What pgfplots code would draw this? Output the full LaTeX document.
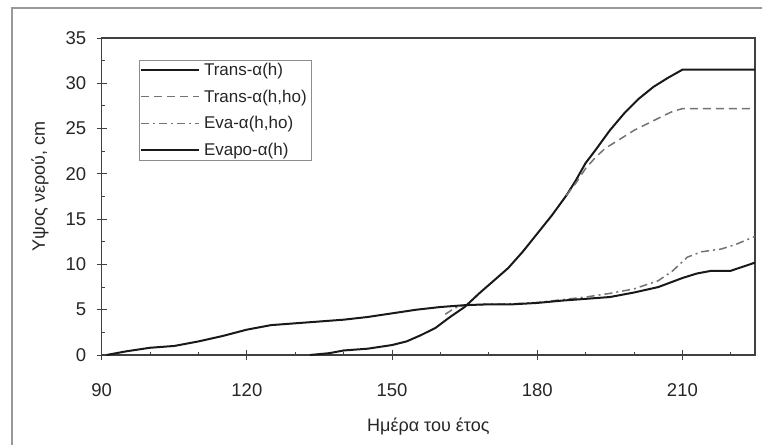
\documentclass[border=0pt]{standalone}
\usepackage{fontspec}
\setmainfont{Liberation Sans}
\usepackage{pgfplots}
\pgfplotsset{compat=1.18}
\usetikzlibrary{calc}
\begin{document}
\begin{tikzpicture}[x=1pt,y=1pt]
\useasboundingbox (0,0) rectangle (762,445);
\draw[black!40, line width=1.5pt] (12,0) -- (12,437) -- (762,437);
\begin{axis}[
  at={(101.7pt,90pt)}, anchor=south west,
  scale only axis, width=653.3pt, height=317pt,
  xmin=90, xmax=225, ymin=0, ymax=35,
  xtick={90,120,...,210}, minor xtick={100,110,...,220},
  ytick={0,5,...,35}, minor ytick={2.5,7.5,...,32.5},
  xtick pos=bottom, ytick pos=left,
  tick align=inside,
  major tick length=10pt, minor tick length=3pt,
  major x tick style={yshift=-5pt},
  major y tick style={xshift=-5pt},
  every tick/.style={black!75, line width=1pt},
  axis line style={black!75, line width=1.3pt},
  /pgf/number format/assume math mode=true,
  tick label style={font=\fontsize{18.5}{21}\selectfont, text=black!85},
  xticklabel style={yshift=-25pt},
  yticklabel style={xshift=-12pt},
  xlabel={Ημέρα του έτος},
  ylabel={Υψος νερού, cm},
  every axis x label/.style={at={($(rel axis cs:0.5,0)+(0pt,-76pt)$)}, anchor=base,
    font=\fontsize{18}{21}\selectfont, text=black!85},
  every axis y label/.style={at={($(rel axis cs:0,0.5)+(-61.7pt,10pt)$)}, rotate=90, anchor=center,
    font=\fontsize{18}{21}\selectfont, text=black!85},
  legend style={at={(rel axis cs:0,1)}, anchor=north west, xshift=37.3pt, yshift=-22pt,
    draw=black!45, line width=0.8pt, fill=white,
    font=\fontsize{17}{20}\selectfont, text=black!85,
    inner sep=1pt, outer sep=0pt, row sep=9pt, nodes={inner ysep=2pt, inner xsep=4pt}},
  legend cell align=left,
  legend image code/.code={\draw[#1] (0pt,0pt) -- (58pt,0pt);},
]
\addplot[black!90, line width=2pt] coordinates {
(133,0) (137,0.2) (140,0.5) (145,0.7) (150,1.1) (153,1.5) (156,2.2) (159,3.0)
(162,4.2) (165,5.3) (168,6.8) (171,8.2) (174,9.6) (177,11.4) (180,13.4) (183,15.4)
(186,17.6) (188,19.3) (190,21.2) (192,22.6) (195,24.8) (198,26.7) (201,28.3)
(204,29.6) (207,30.6) (210,31.5) (225,31.5)};
\addlegendentry{Trans-α(h)}
\addplot[black!55, line width=1.5pt, dash pattern=on 8pt off 5pt] coordinates {
(186,17.6) (188,19.0) (190,20.6) (192,21.8) (194,22.8) (197,23.8) (200,24.8)
(203,25.6) (206,26.4) (208,26.9) (210,27.2) (225,27.2)};
\addlegendentry{Trans-α(h,ho)}
\addplot[black!55, line width=1.5pt, dash pattern=on 8pt off 4pt on 2pt off 4pt] coordinates {
(161,4.5) (163,5.2) (165,5.5) (170,5.6) (175,5.65) (180,5.8) (185,6.1) (190,6.4)
(195,6.8) (200,7.3) (205,8.2) (208,9.3) (211,10.8) (214,11.4) (218,11.7) (221,12.2) (225,13.1)};
\addlegendentry{Eva-α(h,ho)}
\addplot[black!90, line width=2pt] coordinates {
(91,0) (95,0.4) (100,0.8) (105,1.0) (110,1.5) (115,2.1) (120,2.8) (125,3.3)
(130,3.5) (135,3.7) (140,3.9) (145,4.2) (150,4.6) (155,5.0) (160,5.3) (165,5.5)
(170,5.6) (175,5.6) (180,5.75) (185,6.0) (190,6.2) (195,6.4) (200,6.9) (205,7.5)
(210,8.5) (213,9.0) (216,9.3) (220,9.3) (225,10.2)};
\addlegendentry{Evapo-α(h)}
\end{axis}
\end{tikzpicture}
\end{document}
